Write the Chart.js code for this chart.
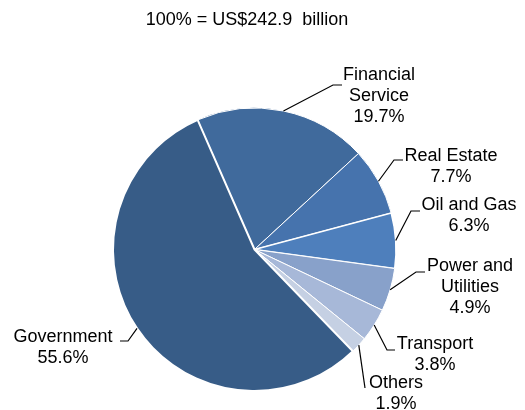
<!DOCTYPE html>
<html>
<head>
<meta charset="utf-8">
<script src="https://cdn.jsdelivr.net/npm/chart.js@4"></script>
<style>
  body { margin: 0; background: #fff; }
  #wrap { width: 525px; height: 410px; }
</style>
</head>
<body>
<div id="wrap"><canvas id="graph" width="525" height="410"></canvas></div>
<script>
var categories = ["Financial Service", "Real Estate", "Oil and Gas", "Power and Utilities", "Transport", "Others", "Government"];
var shares = [19.7, 7.7, 6.3, 4.9, 3.8, 1.9, 55.6];
var colours = ["#406a9c", "#4673ad", "#4e7fbc", "#88a1ca", "#a7b8d8", "#c5d0e3", "#375c87"];
var title = "100% = US$242.9  billion";

// label text lines, label anchor, elbow and end of the leader line
var callouts = [
    { lines: ["Financial", "Service"], x: 379, y: 75, elbow: [333, 85], end: [342, 85] },
    { lines: ["Real Estate"], x: 451, y: 156, elbow: [394, 160], end: [403, 160] },
    { lines: ["Oil and Gas"], x: 469, y: 205, elbow: [411, 211], end: [420, 211] },
    { lines: ["Power and", "Utilities"], x: 470, y: 266, elbow: [416, 272], end: [425, 272] },
    { lines: ["Transport"], x: 435, y: 344, elbow: [387, 350], end: [395, 350] },
    { lines: ["Others"], x: 396, y: 383, elbow: [365, 388], end: [365, 388] },
    { lines: ["Government"], x: 63, y: 337, elbow: [128, 341], end: [120, 341] }
];

var calloutPlugin = {
    id: 'callouts',
    afterDatasetsDraw: function (chart) {
        var ctx = chart.ctx;
        var arcs = chart.getDatasetMeta(0).data;
        ctx.save();
        ctx.fillStyle = "#000";
        ctx.font = "18px 'Liberation Sans', Arial, sans-serif";
        ctx.textAlign = "center";
        ctx.textBaseline = "middle";
        ctx.fillText(title, 247, 20);

        ctx.strokeStyle = "#000";
        ctx.lineWidth = 1.2;
        arcs.forEach(function (arc, i) {
            var c = callouts[i];
            var mid = (arc.startAngle + arc.endAngle) / 2;
            var sx = arc.x + Math.cos(mid) * arc.outerRadius;
            var sy = arc.y + Math.sin(mid) * arc.outerRadius;
            ctx.beginPath();
            ctx.moveTo(sx, sy);
            ctx.lineTo(c.elbow[0], c.elbow[1]);
            ctx.lineTo(c.end[0], c.end[1]);
            ctx.stroke();

            var lines = c.lines.concat([shares[i].toFixed(1) + "%"]);
            lines.forEach(function (t, k) {
                ctx.fillText(t, c.x, c.y + k * 21);
            });
        });
        ctx.restore();
    }
};

var context = document.querySelector('#graph').getContext('2d');
var myPieChart = new Chart(context, {
    type: 'pie',
    data: {
        labels: categories,
        datasets: [{
            data: shares,
            backgroundColor: colours,
            borderColor: "#fff",
            borderWidth: [1, 1, 1.5, 1, 1, 1, 2]
        }]
    },
    options: {
        responsive: false,
        animation: false,
        rotation: -23.7,
        layout: { padding: { top: 107, bottom: 18, left: 112, right: 128 } },
        plugins: {
            legend: { display: false },
            tooltip: { enabled: false }
        }
    },
    plugins: [calloutPlugin]
});
</script>
</body>
</html>
